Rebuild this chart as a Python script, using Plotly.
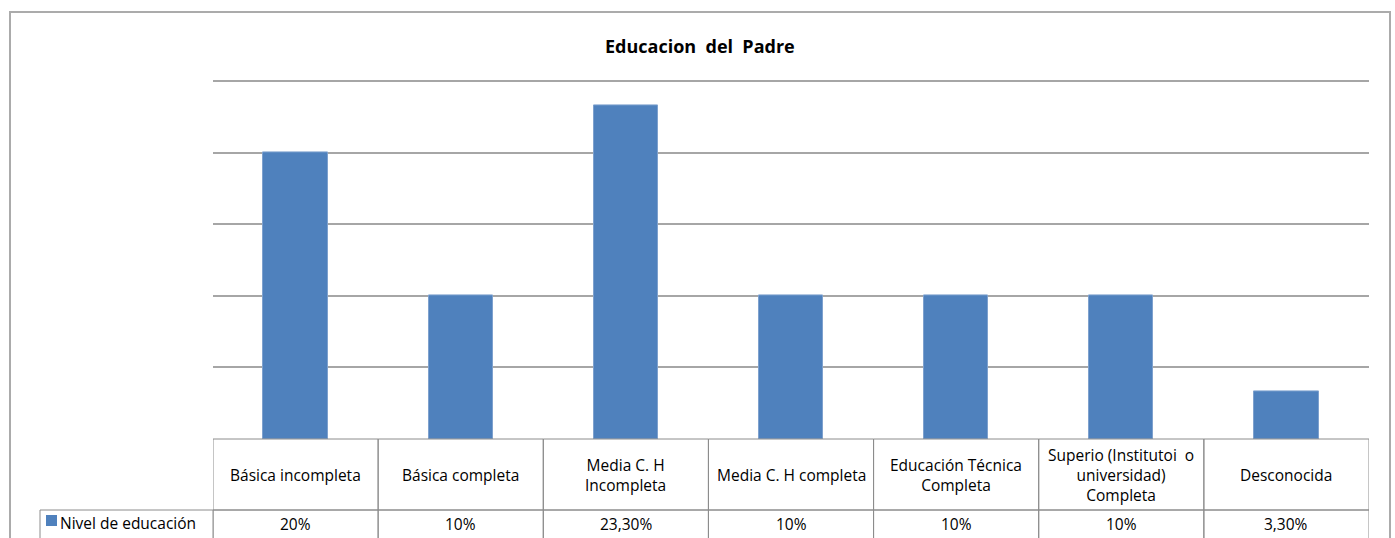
import plotly.graph_objects as go

categories = ["Básica incompleta", "Básica completa", "Media C. H<br>Incompleta",
              "Media C. H completa", "Educación Técnica<br>Completa",
              "Superio (Institutoi  o<br>universidad)<br>Completa", "Desconocida"]
values = [0.20, 0.10, 0.233, 0.10, 0.10, 0.10, 0.033]
value_labels = ["20%", "10%", "23,30%", "10%", "10%", "10%", "3,30%"]
series_name = "Nivel de educación"
title = "Educacion  del  Padre"

W, H = 1395, 538
def px_y(py):
    return (H - py) / H
def px_x(px):
    return px / W

FONT = "Open Sans"
GRID = "#A6A6A6"
TBL = "#8C8C8C"
BAR = "#4F81BD"
YMAX = 0.25
YPAD = 0.0025
# pixel positions: 0 -> 439, YMAX -> 81
y0_px, ytop_px = 439, 81
top_dom_px = ytop_px - (ytop_px and (YPAD / YMAX) * (y0_px - ytop_px))

xs = list(range(len(categories)))
fig = go.Figure()
fig.add_trace(go.Bar(x=xs, y=values, width=0.39, marker=dict(color=BAR, line=dict(color="#7EA1CE", width=1)),
                     name=series_name, showlegend=False))

shapes = []
annotations = []
# outer chart border
shapes.append(dict(type="rect", xref="paper", yref="paper", x0=px_x(10), x1=px_x(1390),
                   y0=px_y(560), y1=px_y(12), line=dict(color="#ABABAB", width=2), layer="below"))
row1_top, row1_bot, row2_bot = 439, 510, 545
TF = dict(family=FONT, size=15.5, color="#000")
for i in xs:
    shapes.append(dict(type="rect", xref="x", yref="paper", x0=i - 0.5, x1=i + 0.5,
                       y0=px_y(row1_bot), y1=px_y(row1_top), line=dict(color=TBL, width=1)))
    shapes.append(dict(type="rect", xref="x", yref="paper", x0=i - 0.5, x1=i + 0.5,
                       y0=px_y(row2_bot), y1=px_y(row1_bot), line=dict(color=TBL, width=1)))
    annotations.append(dict(x=i, y=px_y((row1_top + row1_bot) / 2), xref="x", yref="paper",
                            text=categories[i], showarrow=False, font=TF,
                            align="center", yanchor="middle"))
    annotations.append(dict(x=i, y=px_y(524), xref="x", yref="paper",
                            text=value_labels[i], showarrow=False, font=TF,
                            yanchor="middle"))
# legend cell
shapes.append(dict(type="rect", xref="paper", yref="paper", x0=px_x(40), x1=px_x(213),
                   y0=px_y(row2_bot), y1=px_y(row1_bot), line=dict(color=TBL, width=1)))
shapes.append(dict(type="rect", xref="paper", yref="paper", x0=px_x(46), x1=px_x(57),
                   y0=px_y(526), y1=px_y(515), line=dict(width=0), fillcolor=BAR))
annotations.append(dict(x=px_x(58), y=px_y(523), xref="paper", yref="paper", text=series_name,
                        showarrow=False, xanchor="left", yanchor="middle", font=TF))
annotations.append(dict(x=px_x(700), y=px_y(46), xref="paper", yref="paper", text="<b>" + title + "</b>",
                        showarrow=False, xanchor="center", yanchor="middle",
                        font=dict(family=FONT, size=18, color="#000")))

fig.update_layout(
    width=W, height=H, margin=dict(l=0, r=0, t=0, b=0),
    paper_bgcolor="white", plot_bgcolor="white",
    xaxis=dict(domain=[px_x(213), px_x(1369)], range=[-0.5, 6.5], showticklabels=False,
               showgrid=False, zeroline=False, ticks=""),
    yaxis=dict(domain=[px_y(y0_px), px_y(top_dom_px)], range=[0, YMAX + YPAD], dtick=0.05,
               showticklabels=False, showgrid=True, gridcolor=GRID, gridwidth=1.5,
               zeroline=False, ticks=""),
    shapes=shapes, annotations=annotations, bargap=0,
)
fig.write_html("out.html", config={"displayModeBar": False},
               post_script="document.body.style.margin='0';document.body.style.overflow='hidden';")
